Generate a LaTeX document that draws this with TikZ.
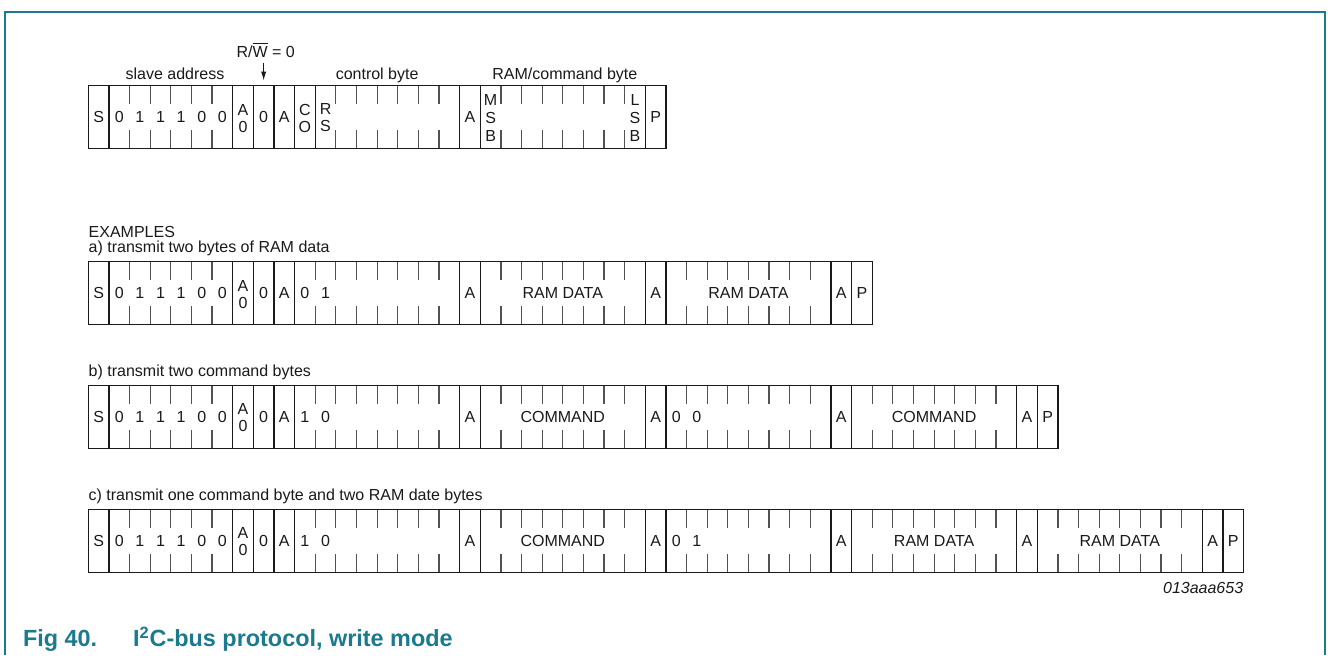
\documentclass[tikz,border=0pt]{standalone}
\usepackage{fontspec}
\setmainfont{Liberation Sans}
\usetikzlibrary{arrows.meta}

\definecolor{nxpteal}{HTML}{1B7A8E}
\definecolor{ink}{HTML}{1A1A1A}

% left edge of cell #1 (in pixels, one cell = 20.63)
\newcommand{\cx}[1]{88.3+20.63*(#1)}
\newcommand{\rowh}{63}

% one frame of bit cells: #1 top edge, #2 number of cells, #3 full dividers
\newcommand{\byterow}[3]{%
  \pgfmathtruncatemacro{\lastdiv}{#2-1}
  \foreach \i in {1,...,\lastdiv}{
    \draw[tick] ({\cx{\i}},#1) -- ++(0,18.5);
    \draw[tick] ({\cx{\i}},#1+\rowh) -- ++(0,-18.5);
  }
  \foreach \i in {#3}
    \draw[divider] ({\cx{\i}},#1) -- ++(0,\rowh);
  \draw[divider] ({\cx{0}},#1) rectangle ({\cx{#2}},#1+\rowh);
}

% start of every frame: S, slave address, R/W bit, acknowledge
\newcommand{\addrfield}[2]{%
  \foreach \c/\t in {0/S,1/0,2/1,3/1,4/1,5/0,6/0,8/0,9/A}
    \node[bit] (#1\c) at ({\cx{\c+0.5}},#2+31.5) {\t};
  \node[stack] (#1a0) at ({\cx{7.5}},#2+32.5) {A\\0};
}

\begin{document}
\begin{tikzpicture}[x=0.5pt,y=-0.5pt,
  every node/.style={inner sep=0pt,text=ink},
  bit/.style={font=\fontsize{8}{8.5}\selectfont},
  stack/.style={bit,align=center},
  tall/.style={align=center,font=\fontsize{8}{9.2}\selectfont},
  lbl/.style={font=\fontsize{8}{10}\selectfont},
  tick/.style={black!68,line width=0.6pt},
  divider/.style={ink,line width=0.6pt},
  caption/.style={font=\fontsize{11.7}{14}\selectfont\bfseries,text=nxpteal}]
  \fill[white] (0,0) rectangle (1328,655);
  \useasboundingbox (0,0) rectangle (1328,655);

  % page frame, open at the bottom
  \draw[nxpteal,line width=1pt] (5.3,655) |- (1325,11.7) -- (1325,655);

  % general format
  \byterow{85.7}{28}{1,7,8,9,10,11,18,19,27}
  \addrfield{t}{85.7}
  \node[stack] (tco) at ({\cx{10.5}},118) {C\\O};
  \node[stack] (trs) at ({\cx{11.5}},118) {R\\S};
  \node[bit] (t18) at ({\cx{18.5}},117.2) {A};
  \node[tall] (tmsb) at ({\cx{19.5}},118) {M\\S\\B};
  \node[tall] (tlsb) at ({\cx{26.5}},118) {L\\S\\B};
  \node[bit] (t27) at ({\cx{27.5}},117.2) {P};

  \node[lbl,anchor=base] (slave) at ({\cx{4.2}},79) {slave address};
  \node[lbl,anchor=base] (ctrl) at ({\cx{14}},79) {control byte};
  \node[lbl,anchor=base] (ramcmd) at ({\cx{23.1}},79) {RAM/command byte};
  \node[lbl,anchor=base,inner ysep=2.3pt] (rw) at (265.7,57.4) {R/$\overline{\mbox{W}}$ = 0};
  \coordinate (rwbit) at ({\cx{8.5}},80.7);
  \draw[ink,line width=0.6pt,-{Latex[length=4.5pt,width=2.6pt]}] (rw.south -| rwbit) -- (rwbit);

  % examples
  \node[lbl,anchor=base west] (examples) at ({\cx{0}},237) {EXAMPLES};
  \node[lbl,anchor=base west] (capa) at ({\cx{0}},252.5) {a) transmit two bytes of RAM data};
  \node[lbl,anchor=base west] (capb) at ({\cx{0}},376) {b) transmit two command bytes};
  \node[lbl,anchor=base west] (capc) at ({\cx{0}},500.3) {c) transmit one command byte and two RAM date bytes};

  % a) two RAM data bytes
  \byterow{261.7}{38}{1,7,8,9,10,18,19,27,28,36,37}
  \addrfield{a}{261.7}
  \foreach \c/\t in {10/0,11/1,18/A,27/A,36/A,37/P}
    \node[bit] (a\c) at ({\cx{\c+0.5}},293.2) {\t};
  \node[bit] (adata1) at ({\cx{23}},293.2) {RAM DATA};
  \node[bit] (adata2) at ({\cx{32}},293.2) {RAM DATA};

  % b) two command bytes
  \byterow{385.3}{47}{1,7,8,9,10,18,19,27,28,36,37,45,46}
  \addrfield{b}{385.3}
  \foreach \c/\t in {10/1,11/0,18/A,27/A,28/0,29/0,36/A,45/A,46/P}
    \node[bit] (b\c) at ({\cx{\c+0.5}},416.8) {\t};
  \node[bit] (bcmd1) at ({\cx{23}},416.8) {COMMAND};
  \node[bit] (bcmd2) at ({\cx{41}},416.8) {COMMAND};

  % c) one command byte, two RAM data bytes
  \byterow{509.3}{56}{1,7,8,9,10,18,19,27,28,36,37,45,46,54,55}
  \addrfield{c}{509.3}
  \foreach \c/\t in {10/1,11/0,18/A,27/A,28/0,29/1,36/A,45/A,54/A,55/P}
    \node[bit] (c\c) at ({\cx{\c+0.5}},540.8) {\t};
  \node[bit] (ccmd) at ({\cx{23}},540.8) {COMMAND};
  \node[bit] (cdata1) at ({\cx{41}},540.8) {RAM DATA};
  \node[bit] (cdata2) at ({\cx{50}},540.8) {RAM DATA};

  \node[lbl,anchor=base east,font=\fontsize{8}{10}\selectfont\itshape] (docid) at ({\cx{56}},593) {013aaa653};

  % figure caption
  \node[caption,anchor=base west] (fignum) at (22.7,646.7) {Fig 40.};
  \node[caption,anchor=base west] (figtitle) at (132.7,646.7) {I\textsuperscript{2}C-bus protocol, write mode};
\end{tikzpicture}
\end{document}
